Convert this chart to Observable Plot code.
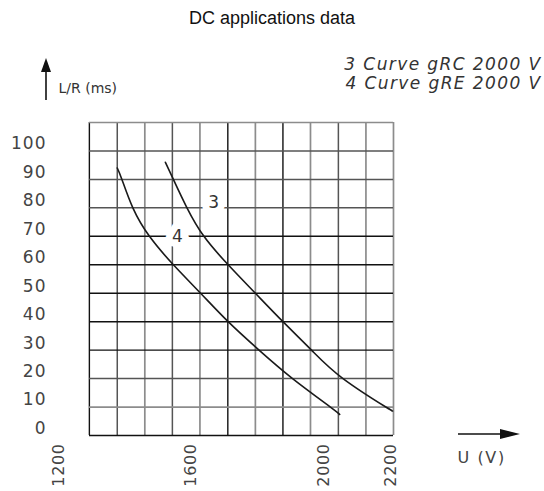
<!DOCTYPE html>
<html>
<head>
<meta charset="utf-8">
<script src="https://cdn.jsdelivr.net/npm/d3@7"></script>
<script src="https://cdn.jsdelivr.net/npm/@observablehq/plot@0.6"></script>
<style>
  html, body { margin: 0; padding: 0; background: #fff; }
  #title { width: 544px; height: 36px; line-height: 36px; text-align: center;
           font-family: "Liberation Sans", Arial, sans-serif; font-size: 18px; color: #111; }
  svg { display: block; }
  g[aria-label="y-axis tick label"] text { letter-spacing: 1px; }
  g[aria-label="x-axis tick label"] text { letter-spacing: 0.6px; }
  g[aria-description="legend"] text { letter-spacing: 1.4px; }
  g[aria-description="xname"] text { letter-spacing: 1.6px; }
</style>
</head>
<body>
<div id="title">DC applications data</div>
<div id="chart"></div>
<script>
// ---- data ----
const curveIds = ["3", "4"];
const curveTypes = ["gRC", "gRE"];
const ratedVoltage = "2000 V";

// curve 3 (gRC 2000 V): U (V) vs L/R (ms)
const curve3U  = [1522, 1546, 1587, 1638, 1711, 1793, 1876, 1962, 2057, 2186, 2201];
const curve3LR = [96, 90, 80, 70, 60, 50, 40, 30, 20, 10, 9.0];
// curve 4 (gRE 2000 V)
const curve4U  = [1377, 1391, 1424, 1474, 1546, 1628, 1711, 1804, 1905, 2019, 2047];
const curve4LR = [94, 90, 80, 70, 60, 50, 40, 30, 20, 10, 7.4];

// curve label anchor points (U, L/R)
const labelU  = [1667, 1558];
const labelLR = [81.8, 69.9];

// axis ticks
const xTicks = [1200, 1600, 2000, 2200];
const yTicks = [0, 10, 20, 30, 40, 50, 60, 70, 80, 90, 100];

// grid lines as drawn on the chart
const gridU = [1293, 1377, 1460, 1543, 1626, 1710, 1793, 1876, 1959, 2043, 2126, 2209];
const gridUKind = ["major", "mid", "minor", "mid", "minor", "major", "minor", "major", "minor", "mid", "minor", "minor"];
const gridLR = [0, 10, 20, 30, 40, 50, 60, 70, 80, 90, 100, 110];
const gridLRKind = ["major", "minor", "mid", "major", "major", "major", "major", "major", "mid", "mid", "mid", "minor"];

const axisLabelY = "L/R (ms)";
const axisLabelX = "U (V)";

// ---- build ----
const curves = [
  ...curve3U.map((u, i) => ({curve: curveIds[0], u, lr: curve3LR[i]})),
  ...curve4U.map((u, i) => ({curve: curveIds[1], u, lr: curve4LR[i]}))
];
const labels = curveIds.map((id, i) => ({id, u: labelU[i], lr: labelLR[i]}));
const legendText = curveIds.map((id, i) => `${id} Curve ${curveTypes[i]} ${ratedVoltage}`).join("\n");

const gridStyles = {
  minor: {stroke: "#8c8c8c", strokeWidth: 1.7},
  mid:   {stroke: "#555", strokeWidth: 1.5},
  major: {stroke: "#111", strokeWidth: 1.4}
};
const kinds = ["minor", "mid", "major"];

const arrows = (index, scales, values, dims) => {
  const {width, height, marginLeft, marginTop, marginRight, marginBottom} = dims;
  const g = d3.create("svg:g").attr("fill", "#111").attr("stroke", "#111");
  // vertical arrow (y axis)
  const ax = marginLeft - 43;
  g.append("line").attr("x1", ax).attr("x2", ax)
    .attr("y1", marginTop - 22).attr("y2", marginTop - 52).attr("stroke-width", 1.6);
  g.append("path").attr("stroke", "none")
    .attr("d", `M${ax},${marginTop - 64}L${ax - 5},${marginTop - 50}L${ax + 5},${marginTop - 50}Z`);
  // horizontal arrow (x axis)
  const fx = width - marginRight, fy = height - marginBottom - 1;
  g.append("line").attr("x1", fx + 65).attr("x2", fx + 110)
    .attr("y1", fy).attr("y2", fy).attr("stroke-width", 1.6);
  g.append("path").attr("stroke", "none")
    .attr("d", `M${fx + 127},${fy}L${fx + 107},${fy - 5}L${fx + 107},${fy + 5}Z`);
  return g.node();
};

const plot = Plot.plot({
  width: 544,
  height: 455,
  marginLeft: 89,
  marginRight: 151,
  marginTop: 86,
  marginBottom: 56,
  x: {type: "linear", domain: [1200, 2200], range: [58, 390]},
  y: {type: "linear", domain: [0, 110]},
  style: {fontFamily: "'DejaVu Sans', sans-serif", color: "#333", background: "#fff"},
  marks: [
    ...kinds.map(k => Plot.ruleX(gridU.filter((_, i) => gridUKind[i] === k), {...gridStyles[k]})),
    ...kinds.map(k => Plot.ruleY(gridLR.filter((_, i) => gridLRKind[i] === k), {...gridStyles[k]})),
    Plot.text(labels, {x: "u", y: "lr", text: "id", fontSize: 17, fill: "#333",
      stroke: "white", strokeWidth: 14, paintOrder: "stroke"}),
    Plot.line(curves, {x: "u", y: "lr", z: "curve", stroke: "#1a1a1a", strokeWidth: 1.6, curve: "natural"}),
    Plot.axisY(yTicks, {anchor: "left", tickSize: 0, tickPadding: 43, dy: -7,
      fontSize: 17, fill: "#444", tickFormat: d => String(d), label: null}),
    Plot.axisX(xTicks, {anchor: "bottom", tickSize: 0, tickPadding: 8, tickRotate: -90,
      fontSize: 16, fill: "#444", tickFormat: d => String(d), label: null}),
    Plot.text([axisLabelY], {frameAnchor: "top-left", dx: -31, dy: -34, textAnchor: "start",
      lineAnchor: "middle", fontSize: 14, fill: "#333"}),
    Plot.text([axisLabelX], {frameAnchor: "bottom-right", dx: 64, dy: 22, textAnchor: "start",
      lineAnchor: "middle", fontSize: 16, fill: "#444", ariaDescription: "xname"}),
    Plot.text([legendText], {frameAnchor: "top-right", dx: 148, dy: -49, textAnchor: "end",
      lineAnchor: "middle", lineHeight: 1.12, fontSize: 17, fontStyle: "italic", fill: "#333",
      ariaDescription: "legend"}),
    arrows
  ]
});
document.getElementById("chart").appendChild(plot);
</script>
</body>
</html>
